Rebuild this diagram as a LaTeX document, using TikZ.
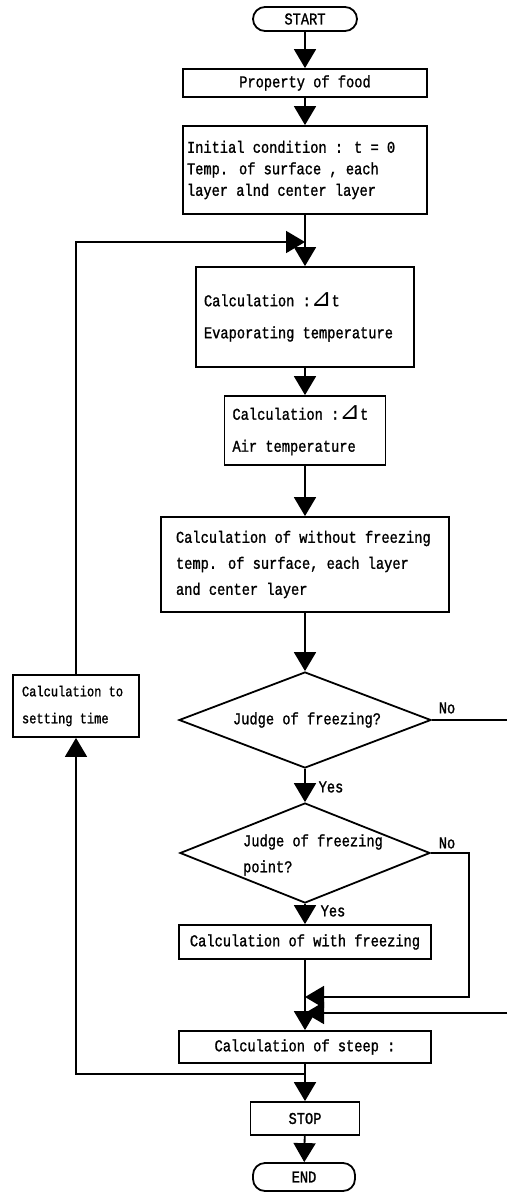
\documentclass[tikz,border=0pt]{standalone}
\usepackage{fontspec}
\usepackage{graphicx}
\setmainfont{Liberation Mono}[FakeStretch=0.83, FakeBold=1.2]
\newfontfamily\symf{DejaVu Sans}
\usetikzlibrary{arrows.meta,shapes.geometric}
\newcommand{\rtri}{\scalebox{1.5}{\symf\char"22BF}}
\tikzset{
  base/.style={draw, line width=1.8pt, font=\fontsize{16.5}{18}\selectfont, inner sep=0pt},
  box/.style={base, rectangle},
  term/.style={base, rectangle, rounded corners=12pt},
  dia/.style={base, diamond, aspect=2.6},
  lbl/.style={font=\fontsize{16.5}{18}\selectfont, inner sep=0pt},
  conn/.style={line width=1.8pt},
  flow/.style={line width=1.8pt, -{Triangle[length=19pt,width=22pt]}},
}
\begin{document}
\begin{tikzpicture}[x=1pt,y=-1pt]
\path[use as bounding box, fill=white] (0,0) rectangle (507,1192);

\node[term, minimum width=104pt, minimum height=24pt] (start) at (305,19) {START};
\node[box, minimum width=244pt, minimum height=28pt] (prop) at (305,83) {Property of food};
\node[box, minimum width=244pt, minimum height=88pt, text width=236pt, align=flush left,
      font=\fontsize{16.5}{21.5}\selectfont] (init) at (305,170)
  {Initial condition : t = 0\\Temp. of surface , each\\layer alnd center layer};
\node[box, minimum width=218pt, minimum height=100pt, text width=202pt, align=flush left,
      font=\fontsize{16.5}{32}\selectfont] (evap) at (305,317)
  {Calculation :\rtri t\\Evaporating temperature};
\node[box, minimum width=161pt, minimum height=69pt, text width=145pt, align=flush left,
      font=\fontsize{16.5}{32}\selectfont] (air) at (305,430.5)
  {Calculation :\rtri t\\Air temperature};
\node[box, minimum width=288pt, minimum height=95pt, text width=258pt, align=flush left,
      font=\fontsize{16.5}{26}\selectfont] (wof) at (305,564.5)
  {Calculation of without freezing\\temp. of surface, each layer\\and center layer};
\node[dia, minimum width=252pt, minimum height=96pt] (d1) at (305,720) {};
\node[lbl] (d1t) at (307,720) {Judge of freezing?};
\node[dia, minimum width=250pt, minimum height=100pt] (d2) at (305,853) {};
\node[lbl, align=flush left, font=\fontsize{16.5}{26}\selectfont] (d2t) at (313,855) {Judge of freezing\\point?};
\node[box, minimum width=252pt, minimum height=34pt] (wf) at (305,942) {Calculation of with freezing};
\node[box, minimum width=252pt, minimum height=32pt] (steep) at (305,1047) {Calculation of steep :};
\node[box, minimum width=109pt, minimum height=33pt] (stop) at (305,1118.5) {STOP};
\node[term, minimum width=102pt, minimum height=28pt] (fin) at (304,1177) {END};
\node[box, minimum width=126pt, minimum height=62pt, text width=108pt, align=flush left,
      font=\fontsize{14.5}{27}\selectfont] (set) at (76,706)
  {Calculation to\\setting time};

\node[lbl] (no1) at (447,708) {No};
\node[lbl] (yes1) at (331,787) {Yes};
\node[lbl] (no2) at (447,843) {No};
\node[lbl] (yes2) at (333,911) {Yes};

\coordinate (j1) at (305,242);
\coordinate (j2) at (305,1074);
\coordinate (j3) at (305,997);
\coordinate (j4) at (305,1013);
\coordinate (r2) at (469,997);
\coordinate (e1) at (507,720);
\coordinate (e2) at (507,1013);

\draw[flow] (start) -- (prop);
\draw[flow] (prop) -- (init);
\draw[flow] (init) -- (evap);
\draw[flow] (set.north) |- (j1);
\draw[flow] (evap) -- (air);
\draw[flow] (air) -- (wof);
\draw[flow] (wof) -- (d1);
\draw[flow] (d1) -- (d2);
\draw[conn] (d1.east) -- (e1);
\draw[flow] (d2) -- (wf);
\draw[flow] (d2.east) -| (r2) -- (j3);
\draw[flow] (e2) -- (j4);
\draw[flow] (wf) -- (steep);
\draw[flow] (steep) -- (stop);
\draw[flow] (j2) -| (set.south);
\draw[flow] (stop) -- (fin);
\end{tikzpicture}
\end{document}
